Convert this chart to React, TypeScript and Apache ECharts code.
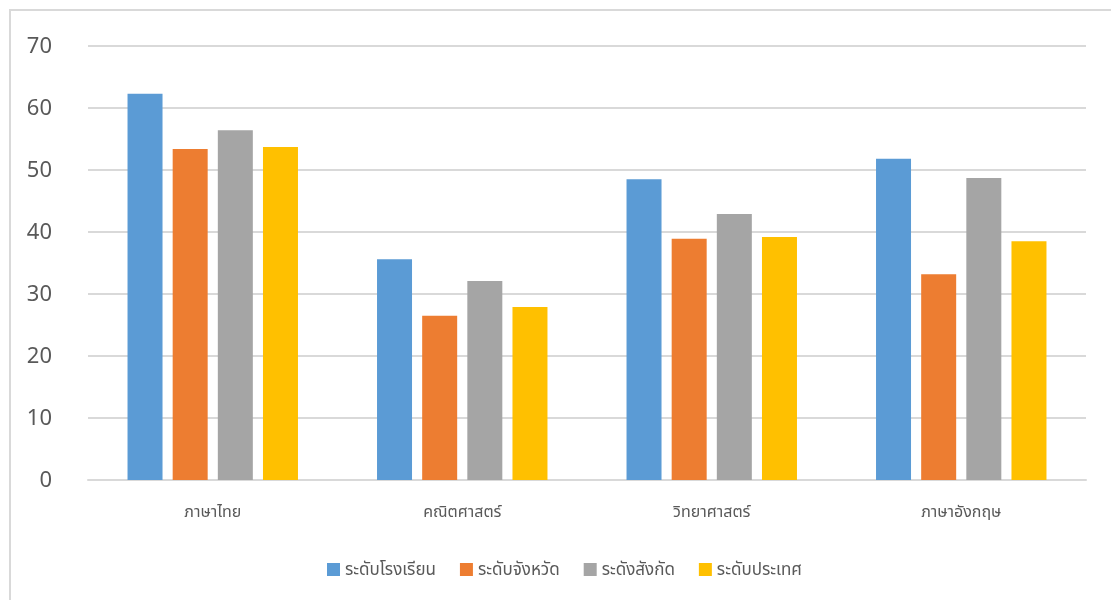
import React, { useEffect, useRef } from "react";
import * as echarts from "echarts";

const categories = ["ภาษาไทย", "คณิตศาสตร์", "วิทยาศาสตร์", "ภาษาอังกฤษ"];
const seriesNames = ["ระดับโรงเรียน", "ระดับจังหวัด", "ระดังสังกัด", "ระดับประเทศ"];
const school = [62.3, 35.6, 48.5, 51.8];
const province = [53.4, 26.5, 38.9, 33.2];
const affiliation = [56.4, 32.1, 42.9, 48.7];
const nation = [53.7, 27.9, 39.2, 38.5];
const colors = ["#5b9bd5", "#ed7d31", "#a5a5a5", "#ffc000"];
const yTicks = { min: 0, max: 70, interval: 10 };

const FONT = "'Noto Sans Thai', 'Noto Sans', sans-serif";

export default function App() {
  const ref = useRef<HTMLDivElement>(null);
  useEffect(() => {
    if (!ref.current) return;
    const chart = echarts.init(ref.current, undefined, { renderer: "svg" });
    const data = [school, province, affiliation, nation];
    chart.setOption({
      animation: false,
      textStyle: { fontFamily: FONT },
      grid: { left: 88, right: 25, top: 46, bottom: 120, containLabel: false },
      legend: {
        data: seriesNames,
        left: 322,
        top: 556,
        itemWidth: 13,
        itemHeight: 13,
        itemGap: 24,
        icon: "rect",
        textStyle: { color: "#595959", fontSize: 17, fontFamily: FONT },
      },
      xAxis: {
        type: "category",
        data: categories,
        axisTick: { show: false },
        axisLine: { show: true, lineStyle: { color: "#d9d9d9", width: 2 } },
        axisLabel: { color: "#595959", fontSize: 16, margin: 24, fontFamily: FONT },
      },
      yAxis: {
        type: "value",
        min: yTicks.min,
        max: yTicks.max,
        interval: yTicks.interval,
        axisLine: { show: false },
        axisTick: { show: false },
        splitLine: { lineStyle: { color: "#d9d9d9", width: 2 } },
        axisLabel: { color: "#595959", fontSize: 22, margin: 36, fontFamily: FONT },
      },
      series: seriesNames.map((name, i) => ({
        name,
        type: "bar",
        data: data[i],
        barWidth: 35,
        barGap: "29%",
        itemStyle: { color: colors[i] },
      })),
    });
    return () => chart.dispose();
  }, []);
  return (
    <>
      <div
        style={{
          position: "fixed",
          left: 9,
          top: 9,
          width: 1102,
          height: 591,
          borderTop: "2px solid #d9d9d9",
          borderLeft: "2px solid #d9d9d9",
          boxSizing: "border-box",
        }}
      />
      <div ref={ref} style={{ position: "fixed", left: 0, top: 0, width: 1111, height: 600 }} />
    </>
  );
}
